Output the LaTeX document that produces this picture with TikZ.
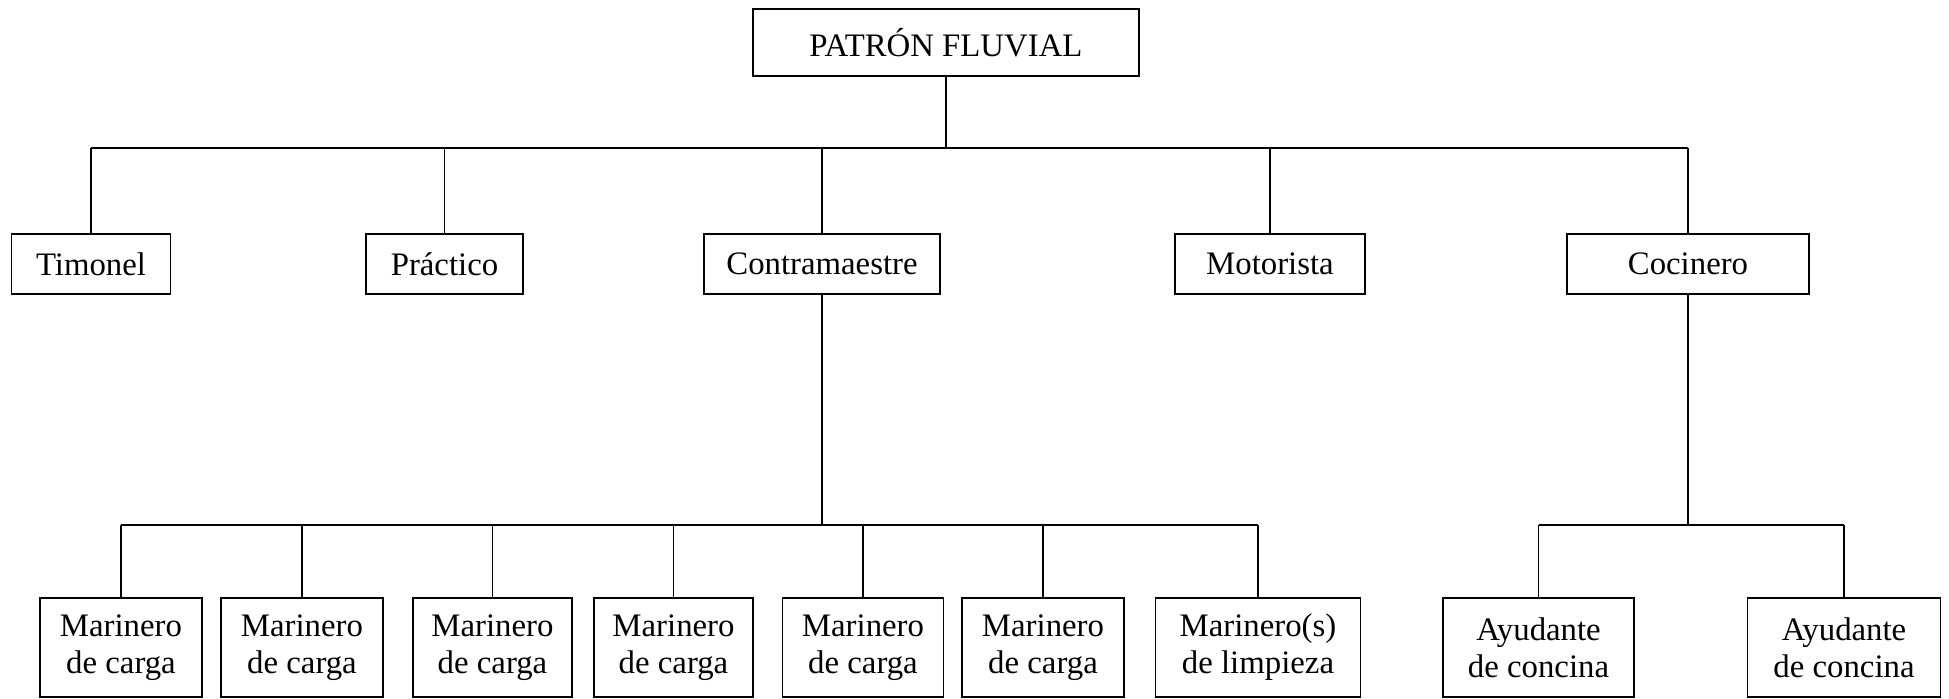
\documentclass[tikz,border=0pt]{standalone}
\usepackage{fontspec}
\setmainfont{Liberation Serif}
\begin{document}
\begin{tikzpicture}[x=0.5pt,y=-0.5pt,
  box/.style={draw,line width=0.75pt,inner sep=0pt,align=center,
    font=\fontsize{16.4}{18.4}\selectfont},
  conn/.style={line width=0.9pt}]
\useasboundingbox (0,0) rectangle (1949,699);
% level 0
\node[box,minimum width=193pt,minimum height=33.5pt] (pat) at (946,42.5) {PATRÓN FLUVIAL};
% level 1
\node[box,minimum width=79.5pt,minimum height=30pt] (tim) at (91,264) {Timonel};
\node[box,minimum width=78.5pt,minimum height=30pt] (pra) at (444.5,264) {Práctico};
\node[box,minimum width=118pt,minimum height=30pt] (con) at (822,264) {Contramaestre};
\node[box,minimum width=95pt,minimum height=30pt] (mot) at (1270,264) {Motorista};
\node[box,minimum width=121pt,minimum height=30pt] (coc) at (1688,264) {Cocinero};
% level 2
\node[box,minimum width=81pt,minimum height=49.5pt] (m1) at (121,647.5) {Marinero\\de carga};
\node[box,minimum width=81pt,minimum height=49.5pt] (m2) at (302,647.5) {Marinero\\de carga};
\node[box,minimum width=79.5pt,minimum height=49.5pt] (m3) at (492.5,647.5) {Marinero\\de carga};
\node[box,minimum width=79.5pt,minimum height=49.5pt] (m4) at (673.5,647.5) {Marinero\\de carga};
\node[box,minimum width=80.5pt,minimum height=49.5pt] (m5) at (863,647.5) {Marinero\\de carga};
\node[box,minimum width=81pt,minimum height=49.5pt] (m6) at (1043,647.5) {Marinero\\de carga};
\node[box,minimum width=102.5pt,minimum height=49.5pt] (m7) at (1258,647.5) {Marinero(s)\\de limpieza};
\node[box,minimum width=95.5pt,minimum height=49.5pt] (a1) at (1538.5,647.5) {Ayudante\\de concina};
\node[box,minimum width=96.5pt,minimum height=49.5pt] (a2) at (1844,647.5) {Ayudante\\de concina};
% bus coordinates
\coordinate (bus1) at (0,148);
\coordinate (bus2) at (0,525);
% connectors level 0 -> 1
\draw[conn] (pat.south) -- (pat.south |- bus1);
\draw[conn] (tim.north |- bus1) -- (coc.north |- bus1);
\foreach \n in {tim,pra,con,mot,coc} \draw[conn] (\n.north) -- (\n.north |- bus1);
% Contramaestre -> marineros
\draw[conn] (con.south) -- (con.south |- bus2);
\draw[conn] (m1.north |- bus2) -- (m7.north |- bus2);
\foreach \n in {m1,m2,m3,m4,m5,m6,m7} \draw[conn] (\n.north) -- (\n.north |- bus2);
% Cocinero -> ayudantes
\draw[conn] (coc.south) -- (coc.south |- bus2);
\draw[conn] (a1.north |- bus2) -- (a2.north |- bus2);
\foreach \n in {a1,a2} \draw[conn] (\n.north) -- (\n.north |- bus2);
\end{tikzpicture}
\end{document}
